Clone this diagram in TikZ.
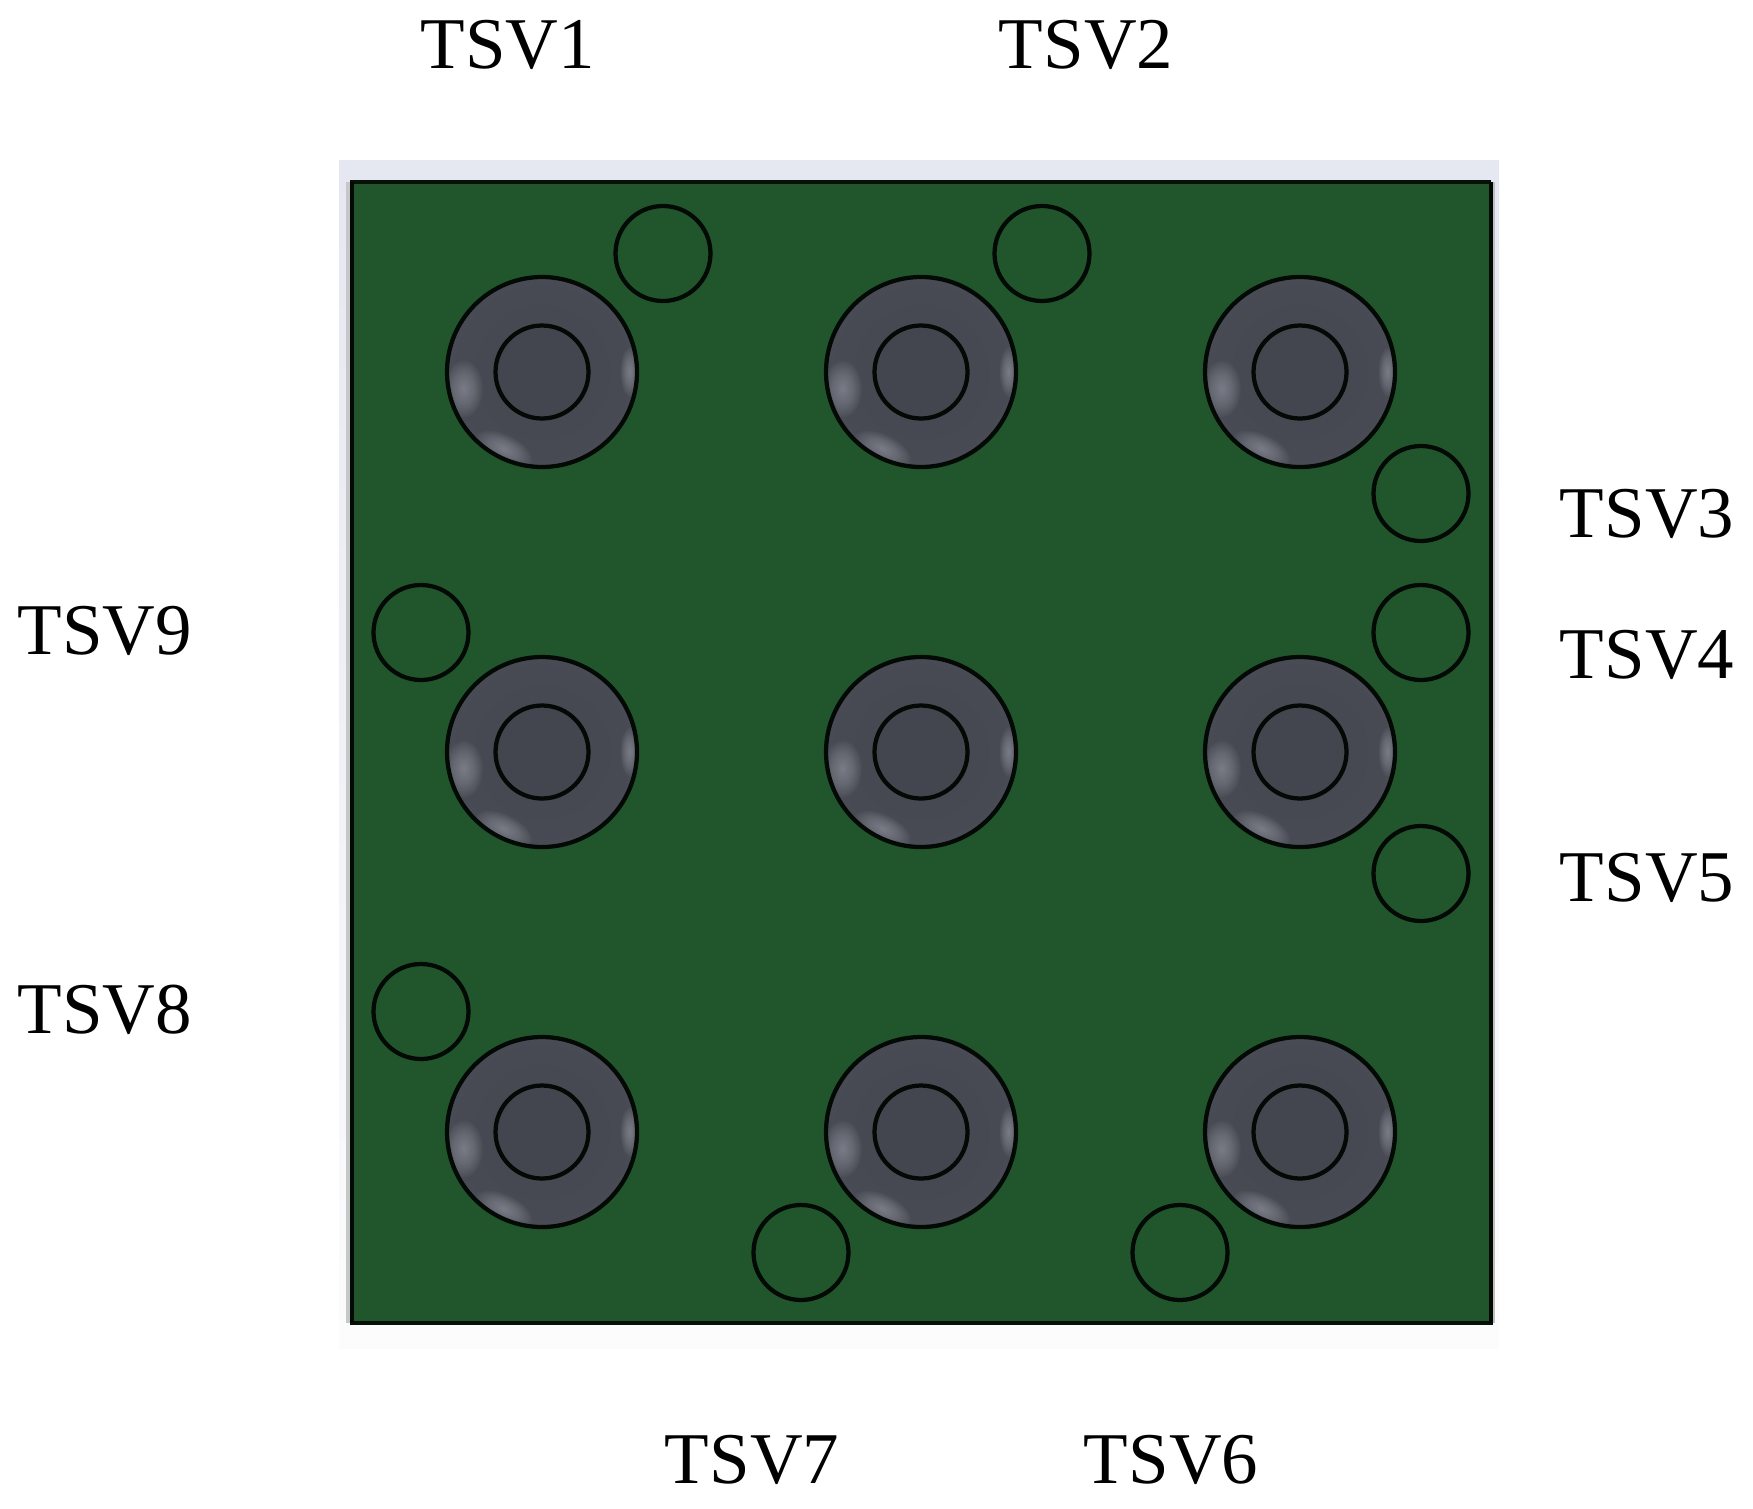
\documentclass[tikz,border=0pt]{standalone}
\usepackage{fontspec}
\setmainfont{Liberation Serif}
\usepackage{xcolor}
\definecolor{BoardGreen}{HTML}{21562C}
\definecolor{PadDark}{HTML}{44464F}
\definecolor{PadMid}{HTML}{4B4D56}
\definecolor{PadEdge}{HTML}{5C5E6A}
\definecolor{PadSpot}{HTML}{A8AAB6}
\definecolor{BandTop}{HTML}{E5E8F1}
\definecolor{BandBottom}{HTML}{FCFCFC}
\pgfdeclareradialshading{PadShade}{\pgfpoint{0bp}{0bp}}{color(0bp)=(PadDark); color(36bp)=(PadMid); color(50bp)=(PadEdge); color(100bp)=(PadEdge)}
\tikzset{
Etiquette/.style={
 font=\fontsize{41.5}{41.5}\selectfont, 
 inner sep=0pt, 
 outer sep=0pt
 },
Contour/.style={
 draw=black!90!BoardGreen, 
 line width=0.085cm
 },
Spot/.style={
 fill=PadSpot, 
 opacity=0.045
 }
}
\begin{document}
\begin{tikzpicture}[x=0.02cm,y=-0.02cm]
\useasboundingbox (0,0) rectangle (1753,1508);
\shade[top color=BandTop,bottom color=BandBottom] (339,160) rectangle (1499,1348);
\fill[black!22] (346,182) rectangle (352,1323);
\fill[black!25] (1491,182) rectangle (1495,1323);
\fill[BoardGreen] (352,182) rectangle (1491,1323);
\draw[line width=0.07cm,black!80!BoardGreen] (350,182) -- (1491,182);
\draw[line width=0.07cm,black!80!BoardGreen] (350,1323) -- (1493,1323);
\draw[line width=0.07cm,black!90!BoardGreen] (352,182) -- (352,1323);
\draw[line width=0.07cm,black!90!BoardGreen] (1491,182) -- (1491,1323);
\foreach \x in {542,921,1300}
\foreach \y in {372,752,1132}
{
\begin{scope}
\clip (\x,\y) circle (95);
\shade[shading=PadShade] (\x,\y) circle (95);
\foreach \f in {0.05,0.1,...,1.0}
{
\fill[Spot] (\x-78,\y+17) ellipse ({20*\f} and {30*\f});
\fill[Spot] (\x+88,\y) ellipse ({10*\f} and {26*\f});
\fill[Spot,rotate around={-26:(\x-38,\y+77)}] (\x-38,\y+77) ellipse ({32*\f} and {15*\f});
}
\end{scope}
\draw[Contour] (\x,\y) circle (95);
\draw[Contour,fill=PadDark] (\x,\y) circle (46.5);
}
\foreach \x/\y in {663/253.5,1042/253.5,1421/493.5,1421/632.5,1421/873.5,1180/1252.5,801/1252.5,421/1011.5,421/632.5}
\draw[Contour] (\x,\y) circle (47.5);
\node[Etiquette] (tsv1) at (508,45) {TSV1};
\node[Etiquette] (tsv2) at (1086,45) {TSV2};
\node[Etiquette] (tsv3) at (1647,514) {TSV3};
\node[Etiquette] (tsv4) at (1647,655) {TSV4};
\node[Etiquette] (tsv5) at (1647,878) {TSV5};
\node[Etiquette] (tsv6) at (1171,1460) {TSV6};
\node[Etiquette] (tsv7) at (752,1460) {TSV7};
\node[Etiquette] (tsv8) at (105,1010) {TSV8};
\node[Etiquette] (tsv9) at (105,631) {TSV9};
\end{tikzpicture}
\end{document}
